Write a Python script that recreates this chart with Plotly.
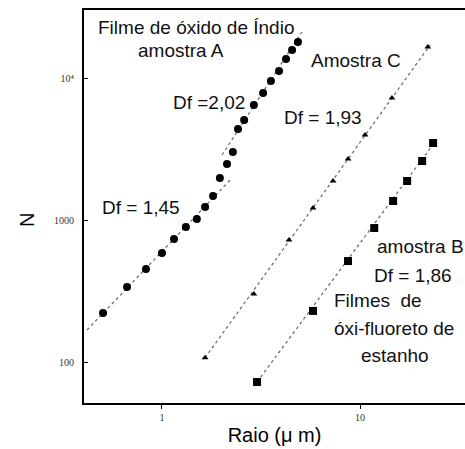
import plotly.graph_objects as go

# ---- data ----
a_x = [0.504, 0.666, 0.830, 1.00, 1.15, 1.32, 1.50, 1.65, 1.81, 1.96, 2.13, 2.28,
       2.42, 2.60, 2.91, 3.24, 3.55, 3.90, 4.23, 4.54, 4.86]
a_y = [221, 337, 452, 586, 735, 893, 1016, 1234, 1476, 1977, 2478, 3013,
       4373, 5062, 6451, 7838, 9520, 11200, 13600, 15750, 17930]

c_x = [1.65, 2.91, 4.38, 5.79, 7.31, 8.70, 10.6, 14.5, 22.0]
c_y = [107, 301, 723, 1215, 1882, 2689, 3968, 7228, 16520]

b_x = [3.02, 5.79, 8.70, 11.8, 14.7, 17.3, 20.6, 23.4]
b_y = [72.3, 229, 514, 878, 1361, 1882, 2603, 3485]

# fitted lines (end points)
fitA1_x = [0.418, 2.26]; fitA1_y = [168, 1976]
fitA2_x = [2.01, 5.09];  fitA2_y = [2868, 21090]
fitC_x = [1.65, 22.6];   fitC_y = [107, 17080]
fitB_x = [3.02, 23.9];   fitB_y = [72.3, 3540]

y_tickvals = [100, 1000, 10000]
y_ticktext = ["100", "1000", "10⁴"]
x_tickvals = [1, 10]
x_ticktext = ["1", "10"]

XR = [-0.3939, 1.5303]
YR = [1.7113, 4.4789]

fig = go.Figure()

line_style = dict(color="#666666", width=1.2, dash="dot")
for fx, fy in [(fitA1_x, fitA1_y), (fitA2_x, fitA2_y), (fitC_x, fitC_y), (fitB_x, fitB_y)]:
    fig.add_trace(go.Scatter(x=fx, y=fy, mode="lines", line=line_style,
                             showlegend=False, hoverinfo="skip"))

fig.add_trace(go.Scatter(x=a_x, y=a_y, mode="markers",
                         marker=dict(symbol="circle", size=8, color="black"),
                         showlegend=False))
fig.add_trace(go.Scatter(x=c_x, y=c_y, mode="markers",
                         marker=dict(symbol="triangle-up", size=6, color="black"),
                         showlegend=False))
fig.add_trace(go.Scatter(x=b_x, y=b_y, mode="markers",
                         marker=dict(symbol="square", size=8, color="black"),
                         showlegend=False))

W, H = 465, 449
L, R, T, B = 84, 0, 10, 46
pw, ph = W - L - R, H - T - B

def px(x):
    return (x - L) / pw

def py(y):
    return (H - B - y) / ph

txt_font = dict(family="Liberation Sans, Arial, sans-serif", size=19, color="#111111")

annots = [
    ("Filme de óxido de Índio", 196, 28, "center"),
    ("amostra A", 181, 50, "center"),
    ("Df =2,02", 209, 102, "center"),
    ("Amostra C", 356, 60, "center"),
    ("Df = 1,93", 323, 117, "center"),
    ("Df = 1,45", 141, 207, "center"),
    ("amostra B", 375, 246, "left"),
    ("Df = 1,86", 372, 275, "left"),
    ("Filmes  de", 332, 300, "left"),
    ("óxi-fluoreto de", 332, 328, "left"),
    ("estanho", 395, 355, "center"),
]
for text, x, y, anchor in annots:
    fig.add_annotation(text=text, xref="paper", yref="paper", x=px(x), y=py(y),
                       xanchor=anchor, yanchor="middle", showarrow=False,
                       font=txt_font)

fig.add_annotation(text="N", xref="paper", yref="paper", x=px(27), y=py(220),
                   xanchor="center", yanchor="middle", showarrow=False,
                   textangle=-90, font=dict(family="Liberation Sans, Arial, sans-serif",
                                            size=20, color="black"))

tick_font = dict(family="Liberation Serif, DejaVu Serif, serif", size=10, color="#333333")

fig.update_layout(
    xaxis=dict(type="log", range=XR,
               tickvals=x_tickvals, ticktext=x_ticktext, tickfont=tick_font,
               ticks="outside", ticklen=4, tickcolor="black",
               showline=True, linecolor="black", linewidth=2, mirror=True,
               showgrid=False, zeroline=False,
               title=dict(text="Raio (μ m)", standoff=6,
                          font=dict(family="Liberation Sans, Arial, sans-serif",
                                    size=20, color="black"))),
    yaxis=dict(type="log", range=YR,
               tickvals=y_tickvals, ticktext=y_ticktext, tickfont=tick_font,
               ticks="inside", ticklen=4, tickcolor="black",
               showline=True, linecolor="black", linewidth=2, mirror=False,
               showgrid=False, zeroline=False, ticklabelstandoff=6),
    # overlay axes carrying the small minor ticks
    xaxis2=dict(type="log", range=XR, overlaying="x", side="bottom", anchor="y",
                dtick="D1", ticks="inside", ticklen=3, tickcolor="#444444",
                showticklabels=False, showline=False, showgrid=False, zeroline=False),
    yaxis2=dict(type="log", range=YR, overlaying="y", side="left", anchor="x",
                dtick="D1", ticks="inside", ticklen=3, tickcolor="#444444",
                showticklabels=False, showline=False, showgrid=False, zeroline=False),
    width=W, height=H, margin=dict(l=L, r=R, t=T, b=B),
    paper_bgcolor="white", plot_bgcolor="white",
)

fig.write_html("out.html")
